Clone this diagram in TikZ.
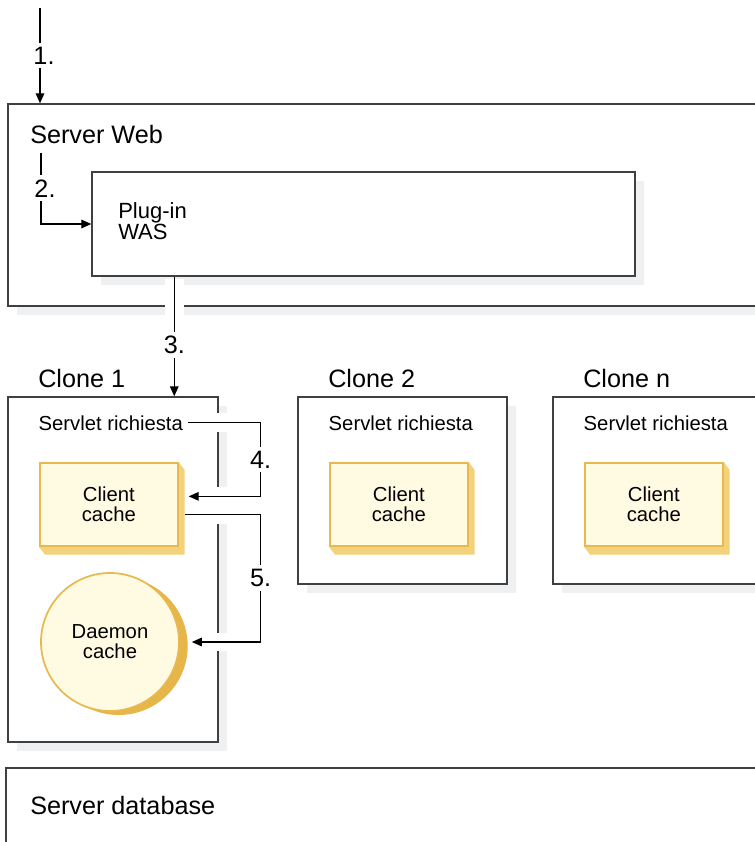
\documentclass[tikz,border=0pt]{standalone}
\usepackage{fontspec}
\setmainfont{Liberation Sans}
\usetikzlibrary{arrows.meta,positioning,fit,calc,shadows}
\definecolor{framegray}{HTML}{404040}
\definecolor{shadegray}{HTML}{EEF0F2}
\definecolor{cachefill}{HTML}{FFFBE3}
\definecolor{cacheline}{HTML}{E8B94E}
\definecolor{cacheside}{HTML}{F3D27C}
\definecolor{daemonside}{HTML}{E6B64A}
\pgfdeclarelayer{frames}
\pgfdeclarelayer{sides}
\pgfsetlayers{frames,sides,main}

\begin{document}
\begin{tikzpicture}[x=0.75pt, y=-0.75pt,
  txt/.style={font=\fontsize{15.2}{15}\selectfont},
  bigtxt/.style={font=\fontsize{18.9}{21}\selectfont},
  frame/.style={draw=framegray, line width=1.1pt, fill=white, inner sep=0pt,
    drop shadow={shadow xshift=6.75pt, shadow yshift=-6.75pt, fill=shadegray, opacity=1}},
  cache/.style={draw=cacheline, line width=1.3pt, fill=cachefill, txt, align=center, inner sep=0pt},
  link/.style={line width=0.8pt, -{Triangle[length=7.5pt,width=6.5pt]}},
  halo/.style={preaction={draw=white, line width=14pt, -, shorten <=2pt, shorten >=8pt}},
  num/.style={bigtxt, fill=white, inner sep=3pt}]
  \useasboundingbox (0,0) rectangle (755,842);

  % boxes
  \begin{pgfonlayer}{frames}
    \node[frame, fit={(8,104) (790,306)}] (web) {};
    \node[frame, fit={(92,172) (635,276)}] (plugin) {};
    \node[frame, fit={(8,397) (218,742)}] (clone1) {};
    \node[frame, fit={(298,397) (507,584)}] (clone2) {};
    \node[frame, fit={(553,397) (762,584)}] (clonen) {};
    \node[frame, fit={(6,768) (790,880)}] (db) {};
  \end{pgfonlayer}

  \node[bigtxt, anchor=base west, inner sep=0pt] (webtitle) at (30,143) {Server Web};
  \node[font=\fontsize{16.5}{15.75}\selectfont, anchor=north west, inner sep=0pt, align=left]
    (plugtext) at (118,202) {Plug-in\\WAS};
  \node[bigtxt, anchor=base west, inner sep=0pt] (dbtitle) at (30,814) {Server database};

  \foreach \nm/\x in {1/38, 2/328, n/583}
  {
    \node[bigtxt, anchor=base west, inner sep=0pt] (title\nm) at (\x,387) {Clone \nm};
    \node[txt, anchor=base west] (serv\nm) at (\x-4,430) {Servlet richiesta};
    \node[cache, minimum width=103.5pt, minimum height=62.25pt, anchor=north west]
      (cc\nm) at (\x+1,462) {Client\\cache};
  }

  \begin{pgfonlayer}{sides}
    \foreach \nm in {cc1,cc2,ccn}
      \fill[cacheside] (\nm.north east) -- ++(6,8) -- ($(\nm.south east)+(6,8)$)
        -- ($(\nm.south west)+(6,8)$) -- (\nm.south west) -- (\nm.south east) -- cycle;
  \end{pgfonlayer}

  \node[cache, circle, minimum size=103.5pt,
    drop shadow={shadow xshift=6.5pt, shadow yshift=-3pt, fill=daemonside, opacity=1}]
    (daemon) at (110,642) {Daemon\\cache};

  % flow
  \coordinate (entry) at (40,8);
  \draw[link] (entry) -- node[num, xshift=3pt] {1.} (entry |- web.north);
  \draw[link] ($(webtitle.south west)+(11,9)$) |- node[num, pos=0.25, xshift=3pt] {2.} (plugin.west);
  \coordinate (drop) at ($(plugin.south west)+(83,0)$);
  \draw[link, halo] (drop) -- node[num, pos=0.57] {3.} (drop |- clone1.north);
  \draw[link, halo] (serv1.east) -- ++(73,0)
    |- node[num, pos=0.25] {4.} ($(cc1.east)+(10,-8)$);
  \draw[link, halo] ($(cc1.east)+(6,10)$) -- ++(76,0)
    |- node[num, pos=0.25] {5.} ($(daemon.east)+(12,0)$);
\end{tikzpicture}
\end{document}
